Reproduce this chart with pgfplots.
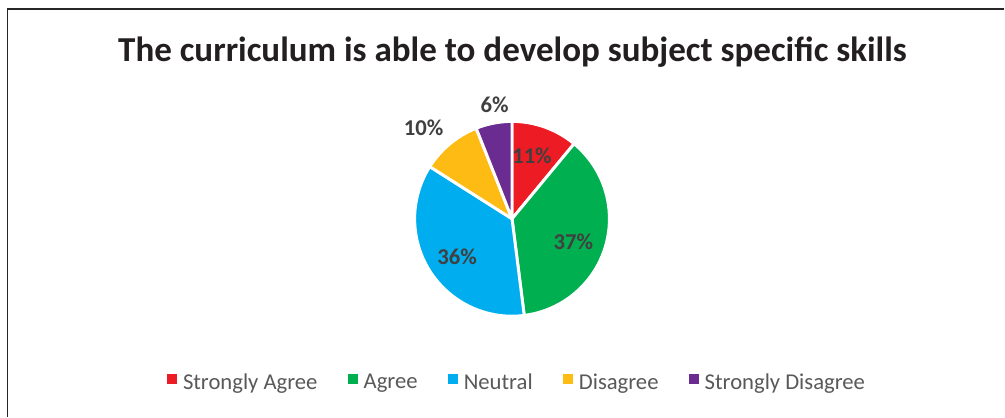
\documentclass[border=0pt]{standalone}
\usepackage{fontspec}
\setmainfont{Carlito}
\usepackage{pgfplots}
\pgfplotsset{compat=1.18}
\definecolor{pieRed}{HTML}{ED1C24}
\definecolor{pieGreen}{HTML}{00B050}
\definecolor{pieBlue}{HTML}{00AEEF}
\definecolor{pieYellow}{HTML}{FDBB13}
\definecolor{pieViolet}{HTML}{6B2C91}
\definecolor{titleCol}{HTML}{231F20}
\definecolor{lblCol}{HTML}{404040}
\definecolor{legCol}{HTML}{595959}
\definecolor{frameCol}{HTML}{262626}
% slice: #1 = cumulative percent before the slice, #2 = percent, #3 = colour
\newcommand{\slice}[3]{%
  \fill[#3, draw=white, line width=2.2pt, line join=round]
    (axis cs:512.5,219) -- ++({90-3.6*(#1)}:73.1pt)
    arc[start angle={90-3.6*(#1)}, delta angle={-3.6*(#2)}, radius=73.1pt] -- cycle;}
\begin{document}
\begin{tikzpicture}
\begin{axis}[
  x=0.75pt, y=0.75pt,
  xmin=0, xmax=1005, ymin=0, ymax=417,
  y dir=reverse,
  hide axis, clip=false,
  legend image code/.code={\fill[#1] (0pt,-0.6pt) rectangle (6.8pt,6.2pt);},
  legend style={draw=none, fill=none, legend columns=-1,
    at={(axis cs:518,383)}, anchor=center,
    font=\fontsize{17}{20}\selectfont, text=legCol,
    /tikz/every odd column/.append style={column sep=2.5pt},
    /tikz/every even column/.append style={column sep=21pt},
    inner sep=0pt},
]
\fill[white] (axis cs:0,0) rectangle (axis cs:1005,417);
\draw[frameCol, line width=1.4pt] (axis cs:7.5,417) -- (axis cs:7.5,9) -- (axis cs:1005,9);

% Data: Strongly Agree 11, Agree 37, Neutral 36, Disagree 10, Strongly Disagree 6
\slice{0}{11}{pieRed}
\slice{11}{37}{pieGreen}
\slice{48}{36}{pieBlue}
\slice{84}{10}{pieYellow}
\slice{94}{6}{pieViolet}

\addlegendimage{pieRed}\addlegendentry{Strongly Agree}
\addlegendimage{pieGreen}\addlegendentry{Agree}
\addlegendimage{pieBlue}\addlegendentry{Neutral}
\addlegendimage{pieYellow}\addlegendentry{Disagree}
\addlegendimage{pieViolet}\addlegendentry{Strongly Disagree}

\node[font=\bfseries\fontsize{26.3}{30}\selectfont, text=titleCol] at (axis cs:513,52)
  {The curriculum is able to develop subject specific skills};

\begin{scope}[every node/.style={font=\bfseries\fontsize{17}{20}\selectfont, text=lblCol}]
\node at (axis cs:532.5,156) {11\%};
\node at (axis cs:574,242) {37\%};
\node at (axis cs:457.5,257) {36\%};
\node at (axis cs:424,128) {10\%};
\node at (axis cs:495,105) {6\%};
\end{scope}
\end{axis}
\end{tikzpicture}
\end{document}
